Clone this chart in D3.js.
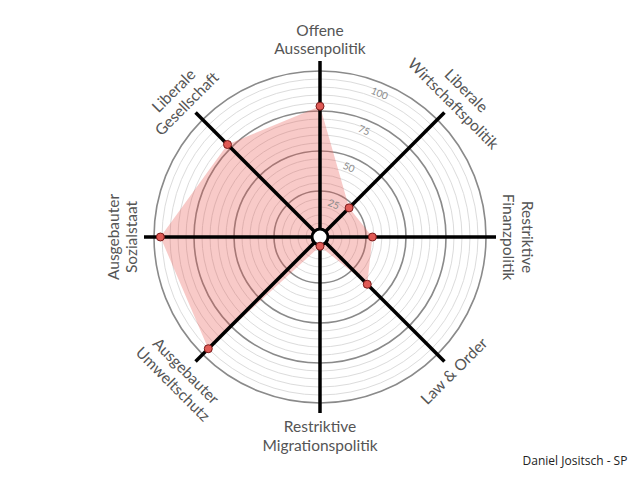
<!DOCTYPE html>
<html>
<head>
<meta charset="utf-8">
<script src="https://cdn.jsdelivr.net/npm/d3@7/dist/d3.min.js"></script>
<style>
html,body{margin:0;padding:0;background:#fff;}
svg{display:block;}
</style>
</head>
<body>
<script>
const axes = [
  ["Offene", "Aussenpolitik"],
  ["Liberale", "Wirtschaftspolitik"],
  ["Restriktive", "Finanzpolitik"],
  ["Law & Order"],
  ["Restriktive", "Migrationspolitik"],
  ["Ausgebauter", "Umweltschutz"],
  ["Ausgebauter", "Sozialstaat"],
  ["Liberale", "Gesellschaft"]
];
const values = [78, 22, 29, 38, 2, 95, 96, 78];
const tickValues = [25, 50, 75, 100];
const minorValues = d3.range(5, 100, 5).filter(v => v % 25 !== 0);
const caption = "Daniel Jositsch - SP";

const W = 640, H = 480;
const cx = 320, cy = 237;
const r = d3.scaleLinear().domain([0, 100]).range([6, 166]);
const axisLen = 176;
const labelInner = 189, lineH = 18.5;

const svg = d3.select("body").append("svg").attr("width", W).attr("height", H);
const g = svg.append("g").attr("transform", `translate(${cx},${cy})`);

const ang = i => i * 2 * Math.PI / axes.length; // clockwise from top
const px = (i, rad) => rad * Math.sin(ang(i));
const py = (i, rad) => -rad * Math.cos(ang(i));

// minor rings
g.selectAll("circle.minor").data(minorValues).join("circle")
  .attr("class", "minor").attr("r", d => r(d))
  .attr("fill", "none").attr("stroke", "#dcdcdc").attr("stroke-width", 1);
// major rings
g.selectAll("circle.major").data(tickValues).join("circle")
  .attr("class", "major").attr("r", d => r(d))
  .attr("fill", "none").attr("stroke", "#8a8a8a").attr("stroke-width", 1.6);

// polygon
const line = d3.lineRadial().angle((d, i) => ang(i)).radius(d => r(d)).curve(d3.curveLinearClosed);
g.append("path").datum(values).attr("d", line)
  .attr("fill", "rgb(232,80,72)").attr("fill-opacity", 0.3).attr("stroke", "none");

// tick labels
const tickAng = 22.5;
g.selectAll("text.tick").data(tickValues).join("text")
  .attr("class", "tick")
  .attr("transform", d => {
    const rr = r(d) - 10, a = tickAng * Math.PI / 180;
    return `translate(${rr * Math.sin(a)},${-rr * Math.cos(a)}) rotate(${tickAng})`;
  })
  .attr("text-anchor", "middle").attr("dominant-baseline", "central")
  .attr("font-family", "Lato, sans-serif").attr("font-size", 10)
  .attr("fill", "#8a8a8a").text(d => d);

// axes
g.selectAll("line.axis").data(axes).join("line")
  .attr("class", "axis")
  .attr("x1", 0).attr("y1", 0)
  .attr("x2", (d, i) => px(i, axisLen)).attr("y2", (d, i) => py(i, axisLen))
  .attr("stroke", "#000").attr("stroke-width", 3.5);

// center circle
g.append("circle").attr("r", 8).attr("fill", "#fff").attr("stroke", "#000").attr("stroke-width", 3);

// dots
g.selectAll("circle.dot").data(values).join("circle")
  .attr("class", "dot")
  .attr("cx", (d, i) => px(i, r(d))).attr("cy", (d, i) => py(i, r(d)))
  .attr("r", 4).attr("fill", "#e05a55").attr("stroke", "#7a1a1a").attr("stroke-width", 1);

// axis labels (one text element per line)
axes.forEach((lines, i) => {
  const deg = i * 360 / axes.length;
  const upper = (deg <= 90 || deg >= 270);
  let rot = upper ? deg : deg - 180;
  if (rot > 180) rot -= 360;
  const n = lines.length;
  const centerR = labelInner + (n - 1) * lineH / 2;
  const x = px(i, centerR), y = py(i, centerR);
  const grp = g.append("g").attr("transform", `translate(${x},${y}) rotate(${rot})`);
  lines.forEach((s, k) => {
    grp.append("text")
      .attr("x", 0)
      .attr("y", (k - (n - 1) / 2) * lineH)
      .attr("text-anchor", "middle")
      .attr("dominant-baseline", "central")
      .attr("font-family", "Lato, sans-serif").attr("font-size", 15.5)
      .attr("fill", "#555")
      .text(s);
  });
});

svg.append("text").attr("x", 575).attr("y", 460)
  .attr("text-anchor", "middle").attr("dominant-baseline", "central")
  .attr("font-family", "'Open Sans', sans-serif").attr("font-size", 12)
  .attr("fill", "#222").text(caption);
</script>
</body>
</html>
